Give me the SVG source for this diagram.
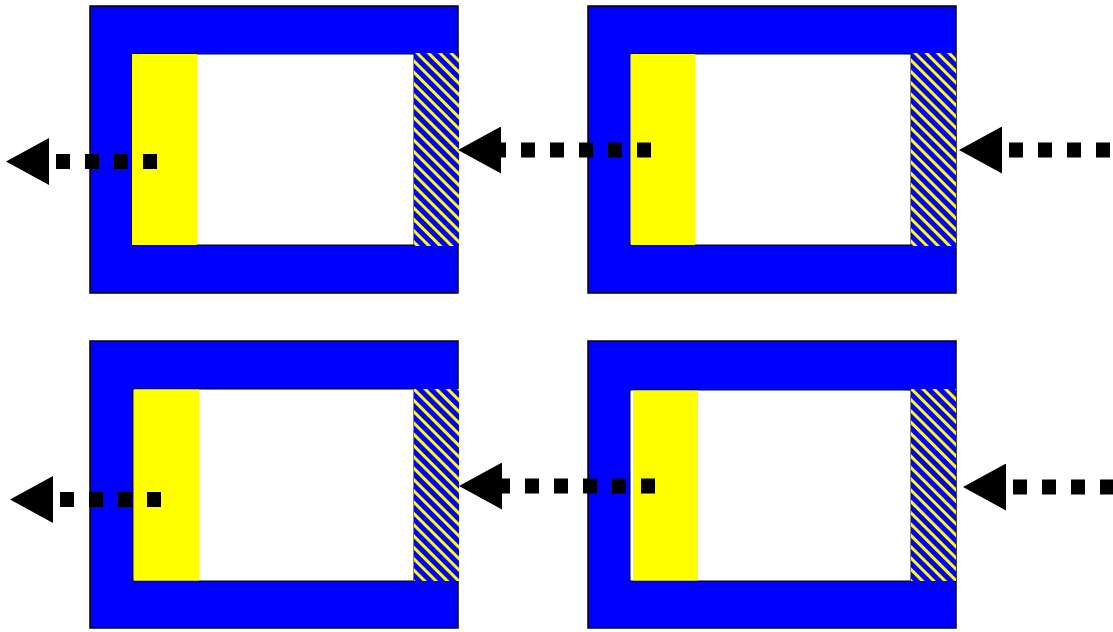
<svg xmlns="http://www.w3.org/2000/svg" width="1113" height="632" viewBox="0 0 1113 632">
  <style>
    .outer { fill: #0000ff; stroke: #000; stroke-width: 1.5; }
    .inner { fill: #fff; stroke: #000; stroke-width: 1; }
    .yellow { fill: #ffff00; stroke: none; }
    .hatch { fill: url(#stripes); stroke: none; }
    .conn { fill: none; stroke: #000; stroke-width: 15; stroke-dasharray: 14 15; stroke-linecap: butt; marker-end: url(#arrow); }
  </style>
  <defs>
    <pattern id="stripes" patternUnits="userSpaceOnUse" width="8" height="8" patternTransform="rotate(-45)">
      <rect x="0" y="0" width="8" height="8" fill="#0000ff"/>
      <rect x="0" y="0" width="3" height="8" fill="#ffff00"/>
    </pattern>
    <marker id="arrow" viewBox="0 0 43 47" refX="0" refY="23.5" markerWidth="43" markerHeight="47" markerUnits="userSpaceOnUse" orient="auto">
      <path d="M0,0 L43,23.5 L0,47 Z" fill="#000" stroke="none"/>
    </marker>
  </defs>

  <g id="node-top-left">
    <rect class="outer" x="90" y="6" width="368" height="287"/>
    <rect class="inner" x="132" y="54" width="282" height="191"/>
    <rect class="yellow" x="132" y="54" width="65" height="191"/>
    <rect class="hatch" x="414" y="53" width="45" height="193"/>
  </g>

  <g id="node-top-right">
    <rect class="outer" x="588" y="6" width="368" height="287"/>
    <rect class="inner" x="630" y="54" width="281" height="191"/>
    <rect class="yellow" x="631" y="54" width="64" height="191"/>
    <rect class="hatch" x="911" y="53" width="45" height="193"/>
  </g>

  <g id="node-bottom-left">
    <rect class="outer" x="90" y="341" width="368" height="287"/>
    <rect class="inner" x="133" y="389" width="281" height="192"/>
    <rect class="yellow" x="134" y="389.5" width="65" height="191"/>
    <rect class="hatch" x="414" y="389" width="45" height="192"/>
  </g>

  <g id="node-bottom-right">
    <rect class="outer" x="588" y="341" width="368" height="287"/>
    <rect class="inner" x="630" y="390" width="281" height="191"/>
    <rect class="yellow" x="633" y="390.5" width="65" height="190"/>
    <rect class="hatch" x="911" y="389" width="45" height="192"/>
  </g>

  <g id="connectors">
    <line class="conn" x1="157" y1="161.5" x2="49" y2="161.5"/>
    <line class="conn" x1="651" y1="150" x2="501" y2="150"/>
    <line class="conn" x1="1110" y1="150" x2="1002" y2="150"/>
    <line class="conn" x1="161" y1="499.5" x2="53" y2="499.5"/>
    <line class="conn" x1="655" y1="486" x2="502" y2="486"/>
    <line class="conn" x1="1114" y1="487" x2="1006" y2="487"/>
  </g>
</svg>
